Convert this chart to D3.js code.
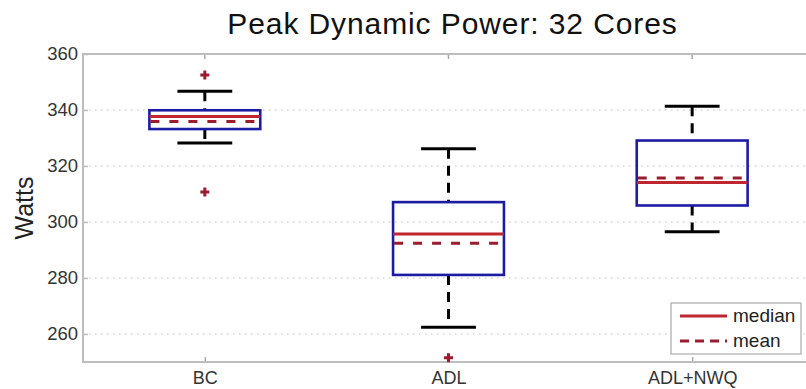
<!DOCTYPE html>
<html>
<head>
<meta charset="utf-8">
<script src="https://cdn.jsdelivr.net/npm/d3@7/dist/d3.min.js"></script>
<style>
  html, body { margin: 0; padding: 0; background: #fff; }
  svg { display: block; font-family: "Liberation Sans", Arial, sans-serif; }
</style>
</head>
<body>
<svg id="chart" width="806" height="389"></svg>
<script>
// Box-plot statistics per configuration (Watts)
const categories  = ["BC", "ADL", "ADL+NWQ"];
const whiskerLow  = [328.2, 262.4, 296.5];
const q1          = [333.2, 281.1, 305.9];
const medians     = [337.7, 295.7, 314.1];
const means       = [335.9, 292.4, 315.7];
const q3          = [339.9, 307.1, 329.1];
const whiskerHigh = [346.7, 326.2, 341.3];
const outliers    = [[352.5, 310.7], [251.5], []];
const yTicks      = [260, 280, 300, 320, 340, 360];

const svg = d3.select("#chart");
const m = { left: 83, right: 814, top: 54, bottom: 362 };

const x = d3.scalePoint().domain(categories).range([m.left, m.right]).padding(0.5);
const y = d3.scaleLinear().domain([250, 360]).range([m.bottom, m.top]);
const step = x.step();
const boxHalf = step * 0.2275;
const capHalf = step * 0.1125;

const axisColor = "#bdbdbd";
const blue = "#1c1ca3";
const red = "#c0262f";
const darkRed = "#9b1c2c";
const font = "'Liberation Sans', Arial, sans-serif";

// Horizontal dotted grid
svg.append("g").selectAll("line").data(yTicks.filter(t => t < 360)).join("line")
  .attr("x1", m.left).attr("x2", m.right)
  .attr("y1", d => y(d)).attr("y2", d => y(d))
  .attr("stroke", "#c4c4c4").attr("stroke-width", 1.2)
  .attr("stroke-dasharray", "1.5,4.5");

// Left axis with inward ticks
const yAxis = d3.axisLeft(y).tickValues(yTicks).tickSize(-5).tickPadding(5).tickSizeOuter(0);
const gy = svg.append("g").attr("transform", `translate(${m.left},0)`).call(yAxis);
gy.select(".domain").remove();
gy.selectAll(".tick line").attr("stroke", axisColor).attr("stroke-width", 1.5);
gy.selectAll(".tick text").attr("fill", "#333").style("font-size", "18.5px")
  .style("font-family", font);

// Right-side inward ticks
svg.append("g").selectAll("line").data(yTicks).join("line")
  .attr("x1", m.right - 5).attr("x2", m.right)
  .attr("y1", d => y(d)).attr("y2", d => y(d))
  .attr("stroke", axisColor).attr("stroke-width", 1.5);

// Bottom axis with inward ticks
const xAxis = d3.axisBottom(x).tickSize(-5).tickPadding(9).tickSizeOuter(0);
const gx = svg.append("g").attr("transform", `translate(0,${m.bottom})`).call(xAxis);
gx.select(".domain").remove();
gx.selectAll(".tick line").attr("stroke", "#a8a8a8").attr("stroke-width", 1.5);
gx.selectAll(".tick text").attr("fill", "#333").style("font-size", "18px")
  .style("font-family", font);

// Top inward ticks
svg.append("g").selectAll("line").data(categories).join("line")
  .attr("x1", d => x(d)).attr("x2", d => x(d))
  .attr("y1", m.top).attr("y2", m.top + 5)
  .attr("stroke", "#a8a8a8").attr("stroke-width", 1.5);

// Plot frame
svg.append("rect")
  .attr("x", m.left).attr("y", m.top)
  .attr("width", m.right - m.left).attr("height", m.bottom - m.top)
  .attr("fill", "none").attr("stroke", axisColor).attr("stroke-width", 2);

// Boxes
const data = categories.map((c, i) => ({
  c, lo: whiskerLow[i], q1: q1[i], med: medians[i], mean: means[i],
  q3: q3[i], hi: whiskerHigh[i], out: outliers[i]
}));

const g = svg.append("g");
data.forEach(d => {
  const cx = x(d.c);
  // dashed whiskers
  g.append("line").attr("x1", cx).attr("x2", cx).attr("y1", y(d.hi)).attr("y2", y(d.q3))
    .attr("stroke", "#000").attr("stroke-width", 3).attr("stroke-dasharray", "10,7");
  g.append("line").attr("x1", cx).attr("x2", cx).attr("y1", y(d.q1)).attr("y2", y(d.lo))
    .attr("stroke", "#000").attr("stroke-width", 3).attr("stroke-dasharray", "10,7");
  // whisker caps
  [d.hi, d.lo].forEach(v => {
    g.append("line").attr("x1", cx - capHalf).attr("x2", cx + capHalf)
      .attr("y1", y(v)).attr("y2", y(v))
      .attr("stroke", "#000").attr("stroke-width", 3);
  });
  // box
  g.append("rect").attr("x", cx - boxHalf).attr("y", y(d.q3))
    .attr("width", boxHalf * 2).attr("height", y(d.q1) - y(d.q3))
    .attr("fill", "none").attr("stroke", blue).attr("stroke-width", 2.6);
  // median
  g.append("line").attr("x1", cx - boxHalf).attr("x2", cx + boxHalf)
    .attr("y1", y(d.med)).attr("y2", y(d.med))
    .attr("stroke", red).attr("stroke-width", 3);
  // mean
  g.append("line").attr("x1", cx - boxHalf + 1).attr("x2", cx + boxHalf)
    .attr("y1", y(d.mean)).attr("y2", y(d.mean))
    .attr("stroke", darkRed).attr("stroke-width", 3).attr("stroke-dasharray", "9,10");
  // outliers
  d.out.forEach(v => {
    const oy = y(v);
    g.append("path")
      .attr("d", `M${cx - 4.5},${oy}H${cx + 4.5}M${cx},${oy - 4.5}V${oy + 4.5}`)
      .attr("stroke", darkRed).attr("stroke-width", 3);
  });
});

// Title
svg.append("text").attr("x", (m.left + m.right) / 2 + 4).attr("y", 34)
  .attr("text-anchor", "middle").attr("fill", "#111")
  .style("font-size", "30px").style("letter-spacing", "0.9px")
  .text("Peak Dynamic Power: 32 Cores");

// Y label
svg.append("text")
  .attr("transform", `translate(33,${(m.top + m.bottom) / 2}) rotate(-90)`)
  .attr("text-anchor", "middle").attr("fill", "#222")
  .style("font-size", "25px").text("Watts");

// Legend
const lg = svg.append("g").attr("transform", "translate(671,303)");
lg.append("rect").attr("width", 130).attr("height", 51)
  .attr("fill", "#fff").attr("stroke", "#aaa").attr("stroke-width", 1.2);
const legendItems = [
  { label: "median", color: red, dash: null, yy: 13 },
  { label: "mean", color: darkRed, dash: "9,6", yy: 38 }
];
legendItems.forEach(it => {
  lg.append("line").attr("x1", 9).attr("x2", 56).attr("y1", it.yy).attr("y2", it.yy)
    .attr("stroke", it.color).attr("stroke-width", 3)
    .attr("stroke-dasharray", it.dash);
  lg.append("text").attr("x", 62).attr("y", it.yy + 6).attr("fill", "#222")
    .style("font-size", "19px").text(it.label);
});
</script>
</body>
</html>
